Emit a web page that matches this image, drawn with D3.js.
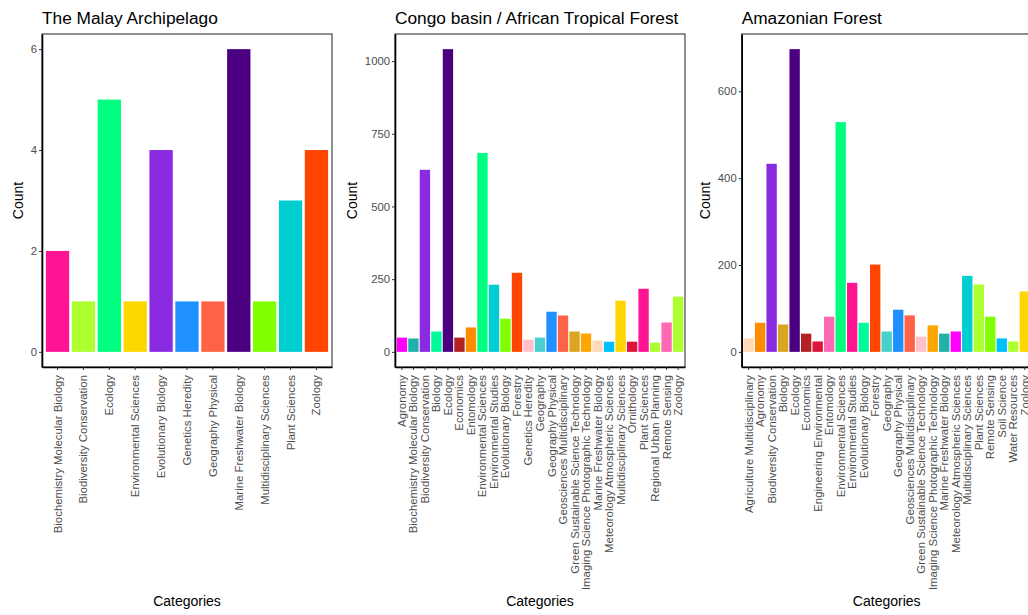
<!DOCTYPE html>
<html>
<head>
<meta charset="utf-8">
<script src="https://cdn.jsdelivr.net/npm/d3@7"></script>
<style>
  html, body { margin: 0; padding: 0; background: #fff; }
  svg { display: block; font-family: "Liberation Sans", Arial, Helvetica, sans-serif; }
</style>
</head>
<body>
<svg id="chart" width="1028" height="615"></svg>
<script>
// ---------- DATA ----------
const malayTitle = "The Malay Archipelago";
const malayCategories = ["Biochemistry Molecular Biology", "Biodiversity Conservation", "Ecology", "Environmental Sciences", "Evolutionary Biology", "Genetics Heredity", "Geography Physical", "Marine Freshwater Biology", "Multidisciplinary Sciences", "Plant Sciences", "Zoology"];
const malayValues = [2, 1, 5, 1, 4, 1, 1, 6, 1, 3, 4];
const malayColors = ["#FF1493", "#ADFF2F", "#00FF7F", "#FFD700", "#8A2BE2", "#1E90FF", "#FF6347", "#4B0082", "#7FFF00", "#00CED1", "#FF4500"];
const malayTicks = [0, 2, 4, 6];

const congoTitle = "Congo basin / African Tropical Forest";
const congoCategories = ["Agronomy", "Biochemistry Molecular Biology", "Biodiversity Conservation", "Biology", "Ecology", "Economics", "Entomology", "Environmental Sciences", "Environmental Studies", "Evolutionary Biology", "Forestry", "Genetics Heredity", "Geography", "Geography Physical", "Geosciences Multidisciplinary", "Green Sustainable Science Technology", "Imaging Science Photographic Technology", "Marine Freshwater Biology", "Meteorology Atmospheric Sciences", "Multidisciplinary Sciences", "Ornithology", "Plant Sciences", "Regional Urban Planning", "Remote Sensing", "Zoology"];
const congoValues = [49, 46, 626, 70, 1041, 49, 84, 684, 231, 114, 272, 42, 49, 138, 125, 70, 63, 39, 35, 176, 35, 217, 32, 101, 190];
const congoColors = ["#FF00FF", "#20B2AA", "#8A2BE2", "#00FA9A", "#4B0082", "#B22222", "#FF8C00", "#00FF7F", "#00CED1", "#7FFF00", "#FF4500", "#FFC0CB", "#48D1CC", "#1E90FF", "#FF6347", "#DAA520", "#FFA500", "#FFDAB9", "#00BFFF", "#FFD700", "#DC143C", "#FF1493", "#ADFF2F", "#FF69B4", "#ADFF2F"];
const congoTicks = [0, 250, 500, 750, 1000];

const amazonTitle = "Amazonian Forest";
const amazonCategories = ["Agriculture Multidisciplinary", "Agronomy", "Biodiversity Conservation", "Biology", "Ecology", "Economics", "Engineering Environmental", "Entomology", "Environmental Sciences", "Environmental Studies", "Evolutionary Biology", "Forestry", "Geography", "Geography Physical", "Geosciences Multidisciplinary", "Green Sustainable Science Technology", "Imaging Science Photographic Technology", "Marine Freshwater Biology", "Meteorology Atmospheric Sciences", "Multidisciplinary Sciences", "Plant Sciences", "Remote Sensing", "Soil Science", "Water Resources", "Zoology"];
const amazonValues = [31, 67, 433, 63, 697, 42, 24, 81, 529, 159, 67, 201, 47, 97, 84, 35, 61, 42, 47, 175, 155, 81, 31, 24, 139];
const amazonColors = ["#FFDAB9", "#FF8C00", "#8A2BE2", "#DAA520", "#4B0082", "#B22222", "#DC143C", "#FF69B4", "#00FF7F", "#FF1493", "#00FA9A", "#FF4500", "#48D1CC", "#1E90FF", "#FF6347", "#FFC0CB", "#FFA500", "#20B2AA", "#FF00FF", "#00CED1", "#ADFF2F", "#7FFF00", "#00BFFF", "#ADFF2F", "#FFD700"];
const amazonTicks = [0, 200, 400, 600];

// ---------- LAYOUT ----------
const plotTop = 34, plotBottom = 367, plotWidth = 290;
const panels = [
  { left: 42,    title: malayTitle,  cats: malayCategories,  vals: malayValues,  cols: malayColors,  ticks: malayTicks },
  { left: 395,   title: congoTitle,  cats: congoCategories,  vals: congoValues,  cols: congoColors,  ticks: congoTicks },
  { left: 741.7, title: amazonTitle, cats: amazonCategories, vals: amazonValues, cols: amazonColors, ticks: amazonTicks }
];

const svg = d3.select("#chart");
const textGray = "#4D4D4D";

panels.forEach(p => {
  const g = svg.append("g");
  const right = p.left + plotWidth;

  const x = d3.scaleBand()
    .domain(p.cats)
    .range([p.left, right])
    .paddingInner(0.1)
    .paddingOuter(0.15);

  const maxV = d3.max(p.vals);
  const y = d3.scaleLinear()
    .domain([-0.05 * maxV, 1.05 * maxV])
    .range([plotBottom, plotTop]);

  // bars
  g.selectAll("rect.bar")
    .data(p.cats.map((c, i) => ({ c, v: p.vals[i], col: p.cols[i] })))
    .enter().append("rect")
    .attr("class", "bar")
    .attr("x", d => x(d.c))
    .attr("width", x.bandwidth())
    .attr("y", d => y(d.v))
    .attr("height", d => y(0) - y(d.v))
    .attr("fill", d => d.col);

  // panel border
  g.append("rect")
    .attr("x", p.left).attr("y", plotTop)
    .attr("width", plotWidth).attr("height", plotBottom - plotTop)
    .attr("fill", "none").attr("stroke", "#333").attr("stroke-width", 1.1);

  // y axis
  const yAxis = g.append("g")
    .attr("transform", `translate(${p.left},0)`)
    .call(d3.axisLeft(y).tickValues(p.ticks).tickFormat(d3.format("d")).tickSize(3).tickPadding(2).tickSizeOuter(0));
  yAxis.select(".domain").attr("stroke", "#000").attr("stroke-width", 1.6);
  yAxis.selectAll(".tick line").attr("stroke", "#333");
  yAxis.selectAll(".tick text").attr("fill", textGray).style("font-size", "11.3px");

  // x axis
  const xAxis = g.append("g")
    .attr("transform", `translate(0,${plotBottom})`)
    .call(d3.axisBottom(x).tickSize(3).tickPadding(2).tickSizeOuter(0));
  xAxis.select(".domain").attr("stroke", "#000").attr("stroke-width", 1.6);
  xAxis.selectAll(".tick line").attr("stroke", "#333");
  xAxis.selectAll(".tick text")
    .attr("fill", textGray)
    .style("font-size", "11.4px")
    .attr("transform", "rotate(-90)")
    .attr("x", -8)
    .attr("y", 0)
    .attr("dy", "0.35em")
    .attr("text-anchor", "end");

  // measure y tick label width
  let maxW = 0;
  yAxis.selectAll(".tick text").each(function () {
    maxW = Math.max(maxW, this.getBBox().width);
  });

  // titles
  g.append("text")
    .attr("x", p.left).attr("y", 24)
    .attr("fill", "#000")
    .style("font-size", "17.3px")
    .text(p.title);

  g.append("text")
    .attr("transform", `translate(${p.left - maxW - 13},${(plotTop + plotBottom) / 2}) rotate(-90)`)
    .attr("text-anchor", "middle")
    .attr("fill", "#000")
    .style("font-size", "14px")
    .text("Count");

  g.append("text")
    .attr("x", p.left + plotWidth / 2).attr("y", 606)
    .attr("text-anchor", "middle")
    .attr("fill", "#000")
    .style("font-size", "14px")
    .text("Categories");
});
</script>
</body>
</html>
